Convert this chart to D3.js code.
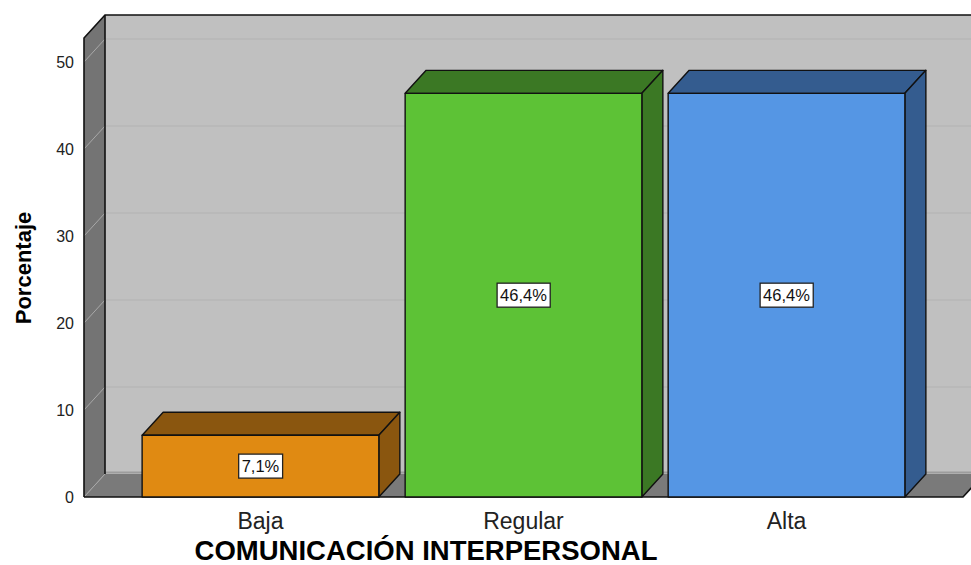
<!DOCTYPE html>
<html><head><meta charset="utf-8">
<script src="https://cdn.jsdelivr.net/npm/d3@7"></script>
<style>html,body{margin:0;padding:0;background:#fff;}svg{display:block;font-family:"Liberation Sans",Arial,sans-serif;}</style>
</head><body><svg id="c" width="971" height="565"></svg>
<script>
const categories = ["Baja", "Regular", "Alta"];
const values = [7.1, 46.4, 46.4];
const valueLabels = ["7,1%", "46,4%", "46,4%"];
const yTicks = [0, 10, 20, 30, 40, 50];
const frontColors = ["#e08a12", "#5dc236", "#5596e4"];
const sideColors = ["#8a560f", "#3b7824", "#345c8f"];
const xTitle = "COMUNICACIÓN INTERPERSONAL";
const yTitle = "Porcentaje";

const svg = d3.select("#c");
const DX = 21, DY = -23;
const x0 = 84, x1 = 963, yBase = 497, yTop = 38;
const y = d3.scaleLinear().domain([0, 52.76]).range([yBase, yTop]);
const x = d3.scaleBand().domain(categories).range([x0, x1]).paddingInner(0.1).paddingOuter(0.221);

// back wall
svg.append("rect").attr("x", x0 + DX).attr("y", yTop + DY).attr("width", 1000).attr("height", yBase - yTop).attr("fill", "#c0c0c0");
yTicks.filter(t => t > 0).forEach(t => {
  svg.append("line").attr("x1", x0 + DX).attr("x2", 980).attr("y1", y(t) + DY).attr("y2", y(t) + DY)
    .attr("stroke", "#b2b2b2").attr("stroke-width", 1.2);
});
// left wall
svg.append("polygon").attr("points", [[x0, yBase], [x0, yTop], [x0 + DX, yTop + DY], [x0 + DX, yBase + DY]].join(" "))
  .attr("fill", "#747474");
yTicks.filter(t => t > 0).forEach(t => {
  svg.append("line").attr("x1", x0).attr("y1", y(t)).attr("x2", x0 + DX).attr("y2", y(t) + DY)
    .attr("stroke", "#a8a8a8").attr("stroke-width", 1);
});
// floor
svg.append("polygon").attr("points", [[x0, yBase], [x1, yBase], [x1 + DX, yBase + DY], [x0 + DX, yBase + DY]].join(" "))
  .attr("fill", "#7a7a7a");
svg.append("line").attr("x1", x0 + DX).attr("x2", 1000).attr("y1", yBase + DY - 1.5).attr("y2", yBase + DY - 1.5)
  .attr("stroke", "#9c9c9c").attr("stroke-width", 2);
svg.append("line").attr("x1", x0).attr("y1", yBase).attr("x2", x0 + DX).attr("y2", yBase + DY).attr("stroke", "#a8a8a8").attr("stroke-width", 1);

// frame lines
const frame = svg.append("g").attr("stroke", "#111").attr("stroke-width", 1.6).attr("fill", "none");
frame.append("path").attr("d", `M${x0},${yBase}V${yTop}L${x0 + DX},${yTop + DY}H980`);
frame.append("path").attr("d", `M${x0 + DX},${yTop + DY}V${yBase + DY}`);
frame.append("path").attr("d", `M${x0},${yBase}H${x1}L${x1 + DX},${yBase + DY}`);

// bars
const bars = svg.append("g");
categories.forEach((c, i) => {
  const bx = x(c), bw = x.bandwidth(), ty = y(values[i]);
  const g = bars.append("g").attr("stroke", "#111").attr("stroke-width", 1.4).attr("stroke-linejoin", "round");
  g.append("polygon").attr("points", [[bx, ty], [bx + DX, ty + DY], [bx + bw + DX, ty + DY], [bx + bw, ty]].join(" ")).attr("fill", sideColors[i]);
  g.append("polygon").attr("points", [[bx + bw, ty], [bx + bw + DX, ty + DY], [bx + bw + DX, yBase + DY], [bx + bw, yBase]].join(" ")).attr("fill", sideColors[i]);
  g.append("rect").attr("x", bx).attr("y", ty).attr("width", bw).attr("height", yBase - ty).attr("fill", frontColors[i]);
  const cx = bx + bw / 2, cy = y(values[i] / 2);
  const lab = bars.append("g");
  const t = lab.append("text").attr("x", cx).attr("y", cy).attr("text-anchor", "middle").attr("dominant-baseline", "central")
    .attr("font-size", 16.5).attr("fill", "#111").text(valueLabels[i]);
  const bb = t.node().getBBox();
  lab.insert("rect", "text").attr("x", bb.x - 3).attr("y", cy - 12).attr("width", bb.width + 6).attr("height", 24)
    .attr("fill", "#fff").attr("stroke", "#222").attr("stroke-width", 1.3);
});

// y axis labels
svg.append("g").selectAll("text").data(yTicks).join("text")
  .attr("x", 74).attr("y", d => y(d)).attr("text-anchor", "end").attr("dominant-baseline", "central")
  .attr("font-size", 16).attr("fill", "#222").text(d => d);
// x category labels
svg.append("g").selectAll("text").data(categories).join("text")
  .attr("x", d => x(d) + x.bandwidth() / 2).attr("y", 529).attr("text-anchor", "middle")
  .attr("font-size", 23).attr("fill", "#222").text(d => d);
// titles
svg.append("text").attr("x", 426).attr("y", 560).attr("text-anchor", "middle").attr("font-size", 27.5)
  .attr("font-weight", "bold").attr("fill", "#000").text(xTitle);
svg.append("text").attr("transform", "translate(31,268) rotate(-90)").attr("text-anchor", "middle")
  .attr("font-size", 22).attr("font-weight", "bold").attr("fill", "#000").text(yTitle);
</script></body></html>
